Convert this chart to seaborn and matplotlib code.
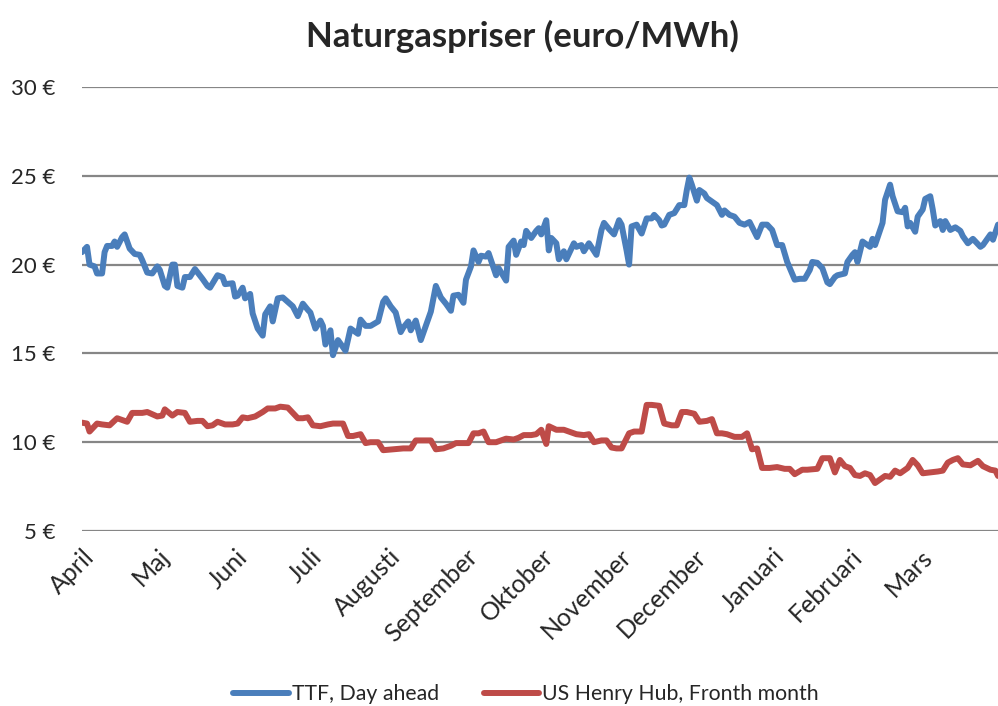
import pandas as pd
import numpy as np
import matplotlib
matplotlib.use('Agg')
import matplotlib.pyplot as plt
import matplotlib.transforms as mtransforms
import seaborn as sns

# Dagar efter 1 april och priser (euro/MWh)
ttf_dag = [0, 2, 3, 5, 6, 8, 9, 10, 12, 13, 14, 16, 17, 19, 21, 23, 24, 26, 28, 30,
           31, 33, 34, 36, 37, 38, 40, 41, 43, 45, 48, 50, 51, 54, 56, 57, 60, 61, 62, 64,
           65, 67, 68, 70, 72, 73, 75, 76, 78, 80, 82, 84, 86, 88, 90, 91, 93, 95, 96, 97,
           99, 100, 102, 103, 105, 107, 108, 110, 111, 113, 115, 118, 120, 121, 123, 125, 127, 128, 130, 131,
           133, 135, 137, 139, 141, 143, 145, 147, 148, 150, 152, 153, 155, 156, 158, 159, 161, 162, 165, 166,
           169, 170, 172, 173, 175, 176, 177, 179, 181, 182, 183, 185, 186, 187, 189, 190, 192, 193, 196, 197,
           199, 200, 202, 205, 207, 208, 210, 212, 214, 215, 217, 218, 219, 221, 223, 225, 227, 228, 230, 231,
           232, 234, 236, 238, 240, 241, 242, 243, 245, 246, 248, 249, 251, 253, 255, 256, 258, 260, 262, 264,
           266, 269, 271, 273, 275, 277, 279, 281, 284, 286, 288, 290, 291, 293, 295, 297, 298, 300, 301, 304,
           305, 307, 308, 309, 311, 313, 314, 315, 316, 319, 320, 322, 323, 325, 327, 328, 329, 330, 332, 333,
           335, 336, 338, 339, 340, 342, 343, 344, 346, 348, 350, 351, 353, 355, 358, 359, 362, 363, 365]
ttf_pris = [20.7, 21.0, 20.0, 19.9, 19.5, 19.5, 20.7, 21.05, 21.05, 21.3, 21.0, 21.55, 21.7, 20.9, 20.6, 20.55, 20.25, 19.55, 19.5, 19.9,
            19.7, 18.8, 18.7, 20.0, 20.0, 18.8, 18.7, 19.3, 19.3, 19.75, 19.2, 18.8, 18.7, 19.4, 19.3, 18.9, 18.95, 18.2, 18.25, 18.7,
            18.1, 18.35, 17.25, 16.4, 16.0, 17.2, 17.65, 16.8, 18.1, 18.15, 17.9, 17.65, 17.1, 17.8, 17.45, 17.3, 16.4, 16.85, 16.55, 15.5,
            16.3, 14.9, 15.75, 15.55, 15.15, 16.4, 16.3, 16.1, 16.9, 16.55, 16.55, 16.8, 17.9, 18.1, 17.65, 17.3, 16.2, 16.45, 16.8, 16.3,
            16.85, 15.75, 16.55, 17.35, 18.8, 18.15, 17.8, 17.4, 18.25, 18.3, 17.85, 19.15, 19.9, 20.8, 20.15, 20.5, 20.45, 20.65, 19.4, 19.8,
            19.1, 21.0, 21.35, 20.55, 21.3, 21.1, 21.9, 21.5, 21.9, 22.05, 21.7, 22.5, 20.8, 21.5, 21.2, 20.3, 20.75, 20.3, 21.2, 21.0,
            21.1, 20.75, 21.2, 20.55, 21.95, 22.35, 22.0, 21.7, 22.5, 22.25, 20.8, 20.0, 22.15, 22.25, 21.75, 22.6, 22.6, 22.8, 22.5, 22.2,
            22.25, 22.8, 22.9, 23.35, 23.35, 24.2, 24.9, 24.5, 23.6, 24.2, 24.0, 23.75, 23.55, 23.35, 22.8, 23.05, 22.8, 22.7, 22.35, 22.25,
            22.4, 21.55, 22.25, 22.25, 21.95, 21.1, 21.1, 20.15, 19.15, 19.2, 19.2, 19.7, 20.15, 20.1, 19.8, 19.0, 18.9, 19.3, 19.4, 19.5,
            20.15, 20.55, 20.7, 20.15, 21.3, 21.1, 21.0, 21.45, 21.1, 22.35, 23.65, 24.5, 23.85, 23.0, 22.95, 23.2, 22.15, 22.35, 21.85, 22.7,
            23.1, 23.7, 23.85, 23.1, 22.2, 22.45, 21.95, 22.45, 21.95, 22.1, 21.9, 21.6, 21.2, 21.45, 21.0, 21.1, 21.7, 21.4, 22.25]

hh_dag = [0, 2, 3, 6, 8, 11, 14, 16, 18, 20, 24, 26, 30, 32, 33, 36, 38, 41, 43, 46,
          48, 50, 52, 54, 57, 60, 62, 64, 66, 69, 72, 74, 77, 79, 82, 84, 86, 88, 90, 92,
          95, 98, 100, 104, 106, 108, 111, 113, 115, 118, 120, 124, 128, 131, 133, 136, 139, 141, 144, 147,
          149, 154, 156, 158, 160, 162, 165, 167, 169, 172, 174, 176, 179, 181, 183, 185, 186, 189, 192, 194,
          197, 200, 202, 204, 207, 209, 211, 213, 215, 218, 220, 223, 225, 227, 230, 232, 235, 237, 239, 241,
          244, 246, 249, 251, 253, 255, 257, 260, 263, 265, 267, 269, 271, 274, 277, 280, 282, 284, 287, 289,
          293, 295, 298, 300, 302, 304, 306, 308, 310, 312, 314, 316, 318, 320, 322, 324, 326, 329, 331, 333,
          335, 338, 341, 343, 345, 347, 349, 351, 354, 357, 359, 362, 364, 365]
hh_pris = [11.1, 11.05, 10.6, 11.05, 11.0, 10.95, 11.35, 11.25, 11.15, 11.65, 11.65, 11.7, 11.45, 11.5, 11.85, 11.5, 11.7, 11.65, 11.15, 11.2,
           11.2, 10.9, 10.95, 11.15, 11.0, 11.0, 11.05, 11.4, 11.35, 11.45, 11.7, 11.9, 11.9, 12.0, 11.95, 11.65, 11.35, 11.35, 11.4, 10.95,
           10.9, 11.0, 11.05, 11.05, 10.35, 10.35, 10.45, 9.95, 10.0, 10.0, 9.55, 9.6, 9.65, 9.65, 10.1, 10.1, 10.1, 9.6, 9.65, 9.8,
           9.95, 9.95, 10.5, 10.5, 10.6, 10.0, 10.0, 10.1, 10.2, 10.15, 10.25, 10.4, 10.4, 10.45, 10.7, 9.9, 10.9, 10.7, 10.7, 10.6,
           10.45, 10.4, 10.45, 10.0, 10.1, 10.1, 9.7, 9.65, 9.65, 10.5, 10.6, 10.6, 12.1, 12.1, 12.05, 11.05, 10.95, 10.95, 11.7, 11.7,
           11.6, 11.15, 11.2, 11.3, 10.5, 10.5, 10.45, 10.3, 10.3, 10.5, 9.6, 9.65, 8.55, 8.55, 8.6, 8.5, 8.5, 8.2, 8.45, 8.45,
           8.5, 9.1, 9.1, 8.3, 9.0, 8.65, 8.55, 8.15, 8.1, 8.25, 8.15, 7.7, 7.9, 8.1, 8.05, 8.4, 8.25, 8.55, 9.0, 8.7,
           8.25, 8.3, 8.35, 8.4, 8.85, 9.0, 9.1, 8.75, 8.7, 8.95, 8.65, 8.45, 8.4, 8.1]

serier = ['TTF, Day ahead', 'US Henry Hub, Fronth month']
farger = ['#4A7EBB', '#BE4B48']
manader = ['April', 'Maj', 'Juni', 'Juli', 'Augusti', 'September', 'Oktober',
           'November', 'December', 'Januari', 'Februari', 'Mars']
y_ticks = [5, 10, 15, 20, 25, 30]

df = pd.concat([
    pd.DataFrame({'dag': ttf_dag, 'pris': ttf_pris, 'serie': serier[0]}),
    pd.DataFrame({'dag': hh_dag, 'pris': hh_pris, 'serie': serier[1]}),
])

start = pd.Timestamp('2010-04-01')
manad_dag = (pd.date_range(start, periods=12, freq='MS') - start).days

sns.set_style('white')
plt.rcParams['font.family'] = ['Lato', 'DejaVu Sans']

fig = plt.figure(figsize=(9.98, 7.06), dpi=100)
ax = fig.add_axes([82 / 998, 1 - 531 / 706, 916 / 998, 444 / 706])

sns.lineplot(data=df, x='dag', y='pris', hue='serie', palette=farger,
             estimator=None, linewidth=4.3, ax=ax, zorder=3)

ax.set_xlim(0, 365)
ax.set_ylim(5, 30)
ax.set_yticks(y_ticks)
ax.set_yticklabels([f'{v} €' for v in y_ticks], fontsize=16)
ax.set_xticks(manad_dag)
ax.set_xticklabels(manader, fontsize=18, rotation=45, ha='right', va='top',
                   rotation_mode='anchor')
offset = mtransforms.ScaledTranslation(15 / 100, 0, fig.dpi_scale_trans)
for lbl in ax.get_xticklabels():
    lbl.set_transform(lbl.get_transform() + offset)
ax.tick_params(axis='both', length=0)
ax.tick_params(axis='y', pad=19)
ax.tick_params(axis='x', pad=10)
ax.set_xlabel('')
ax.set_ylabel('')
ax.grid(axis='y', color='#868686', linewidth=1.6)
ax.grid(axis='x', visible=False)
sns.despine(ax=ax, left=True, bottom=True)

handles, labels = ax.get_legend_handles_labels()
ax.get_legend().remove()
fig.legend(handles, labels, loc='center', bbox_to_anchor=(526 / 998, 1 - 694 / 706),
           ncol=2, frameon=False, fontsize=15.3, handlelength=2.6, columnspacing=2.1,
           handletextpad=0.15)

fig.text(522 / 998, 1 - 36 / 706, 'Naturgaspriser (euro/MWh)', ha='center', va='center',
         fontsize=25, fontweight='bold')

plt.savefig('out.png', dpi=100)
